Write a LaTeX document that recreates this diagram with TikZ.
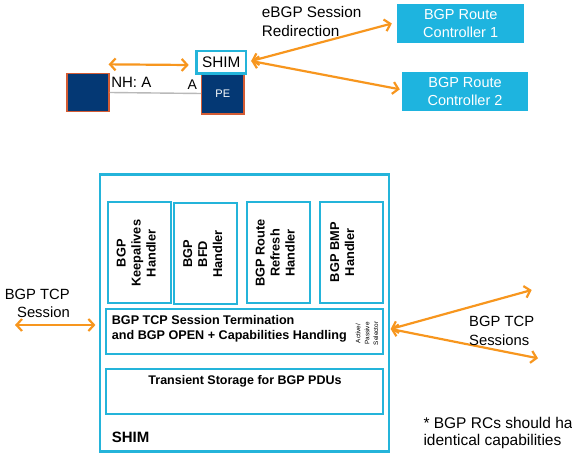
\documentclass[tikz,border=0pt]{standalone}
\usepackage{fontspec}
\setmainfont{Liberation Sans}
\usetikzlibrary{arrows.meta}
\definecolor{shimcyan}{RGB}{36,180,218}
\definecolor{rcfill}{RGB}{30,180,223}
\definecolor{arrorange}{RGB}{247,150,30}
\definecolor{navy}{RGB}{4,56,116}
\definecolor{rededge}{RGB}{212,92,52}
\newcommand{\fs}[2]{\fontsize{#1}{#2}\selectfont}
\tikzset{
  oarrow/.style={draw=arrorange, line width=2.2pt, line cap=round, line join=round,
    arrows={Straight Barb[length=5.5pt,width=12pt]-Straight Barb[length=5.5pt,width=12pt]}},
  navybox/.style={draw=rededge, line width=1.2pt, fill=navy, inner sep=0pt},
  rcbox/.style={fill=rcfill, text=white, align=center, inner sep=0pt,
    minimum width=126pt, minimum height=39.5pt, font=\fs{14.5}{18.3}},
  cyanbox/.style={draw=shimcyan, line width=2pt, fill=white, inner sep=0pt},
  handler/.style={cyanbox},
  htext/.style={rotate=90, align=center, font=\bfseries\fs{12.8}{15}, inner sep=0pt},
  lbl/.style={inner sep=0pt, font=\fs{15}{18.5}},
}
\begin{document}
\begin{tikzpicture}[x=1pt,y=-1pt]
\useasboundingbox (0,0) rectangle (572,462);
\clip (0,0) rectangle (572,462);
% ---------- top part ----------
\node[navybox, minimum width=42pt, minimum height=38.5pt] (leftbox) at (88,92.5) {};
\node[navybox, minimum width=42.3pt, minimum height=41pt, text=white, font=\fs{11}{13}] (pe) at (222.8,93.5) {PE};
\node[cyanbox, line width=2.5pt, minimum width=49.3pt, minimum height=22.3pt, font=\fs{15.3}{18}] (shim) at (221.3,62.2) {SHIM};
\draw[gray!55, line width=1.4pt] (leftbox.east) -- (pe.west);
\node[lbl, anchor=center] (nh) at (131.3,82.5) {NH: A};
\node[lbl, anchor=center, font=\fs{14}{16}] (aa) at (192.3,84.5) {A};
\draw[oarrow] ([shift={(-1pt,8.3pt)}]leftbox.north east) -- ([shift={(-6.7pt,-2.8pt)}]shim.west);
\node[lbl, anchor=west, align=left, font=\fs{15.3}{18.7}] (ebgp) at (261.7,21.4) {eBGP Session\\Redirection};
\node[rcbox, minimum width=126.7pt] (rc1) at (460.7,23.5) {BGP Route\\Controller 1};
\node[rcbox, minimum width=125.4pt, minimum height=39pt] (rc2) at (465,91.5) {BGP Route\\Controller 2};
\draw[oarrow] ([shift={(4pt,1.2pt)}]shim.east) -- ([xshift=-5.3pt]rc1.west);
\draw[oarrow] ([shift={(4pt,1.2pt)}]shim.east) -- ([shift={(-2.3pt,2.2pt)}]rc2.west);
% ---------- bottom part ----------
\node[cyanbox, line width=2.6pt, minimum width=289pt, minimum height=277pt] (outer) at (244.5,313.2) {};
\node[handler, minimum width=62.4pt, minimum height=101.6pt] (h1) at (139.5,252.5) {};
\node[handler, minimum width=63.3pt, minimum height=101.6pt] (h2) at (205.7,253.5) {};
\node[handler, minimum width=62.7pt, minimum height=101.6pt] (h3) at (278.7,252.5) {};
\node[handler, minimum width=62.7pt, minimum height=101.6pt] (h4) at (351.3,252.5) {};
\node[htext] (h1t) at (136.2,253.3) {BGP\\Keepalives\\Handler};
\node[htext] (h2t) at (202.6,254) {BGP\\BFD\\Handler};
\node[htext] (h3t) at (275.3,253) {BGP Route\\Refresh\\Handler};
\node[htext] (h4t) at (342.2,252.3) {BGP BMP\\Handler};
\node[cyanbox, minimum width=277pt, minimum height=44.4pt] (tcp) at (244.8,331.5) {};
\node[anchor=west, align=left, inner sep=0pt, font=\bfseries\fs{12.6}{15}] (tcpt) at (111.7,329.2)
  {BGP TCP Session Termination\\and BGP OPEN + Capabilities Handling};
\node[rotate=90, align=center, inner sep=0pt, font=\fs{6.4}{8.8}] (aps) at (367,333.5) {Active/\\Passive\\Selector};
\node[cyanbox, minimum width=277pt, minimum height=45.3pt] (trans) at (244.8,391.7) {};
\node[inner sep=0pt, font=\bfseries\fs{12.5}{15}] (transt) at (245,381.7) {Transient Storage for BGP PDUs};
\node[anchor=west, inner sep=0pt, font=\bfseries\fs{15}{18}] (shimlbl) at (111.7,437.3) {SHIM};
% left session
\node[lbl, anchor=east, align=right, font=\fs{14.8}{18.3}] (lsess) at (70,303.2) {BGP TCP\\Session};
\coordinate (lstart) at (15,325);
\draw[oarrow] (lstart) -- ([xshift=-3.3pt]lstart -| outer.west);
% right sessions
\coordinate (rsrc) at (390.7,329);
\coordinate (rtop) at (531.7,290);
\coordinate (rbot) at (538,358.3);
\draw[oarrow] (rsrc) -- (rtop);
\draw[oarrow] (rsrc) -- (rbot);
\node[lbl, anchor=west, align=left, font=\fs{14.8}{18.3}] (rsess) at (469,331) {BGP TCP\\Sessions};
% footnote
\node[lbl, anchor=west, align=left, font=\fs{15.5}{16.7}] (note) at (423.3,433.3) {* BGP RCs should ha\\identical capabilities};
\end{tikzpicture}
\end{document}
